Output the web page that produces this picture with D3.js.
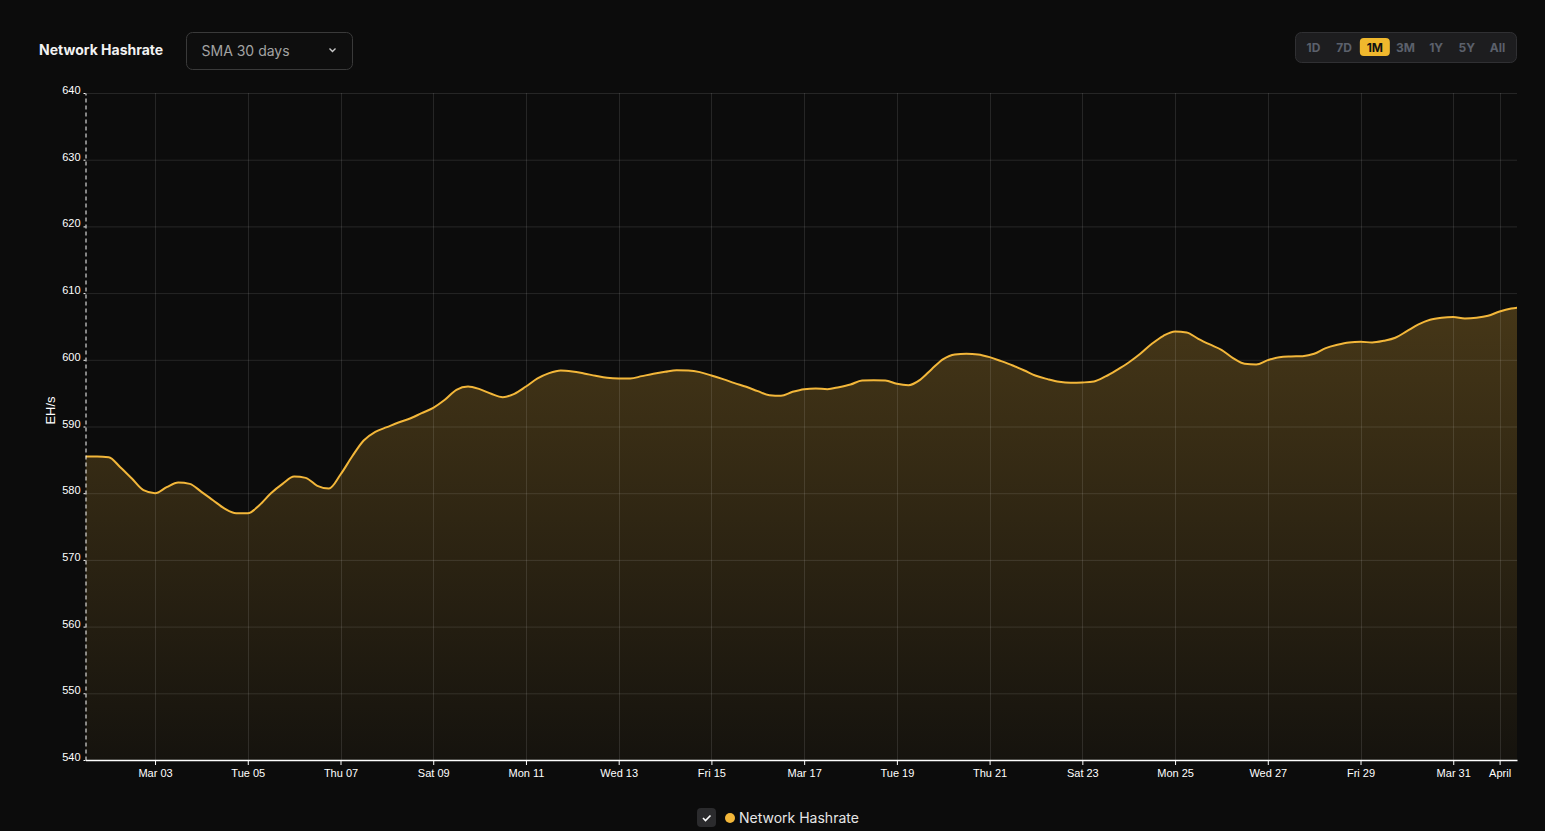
<!DOCTYPE html>
<html lang="en">
<head>
<meta charset="UTF-8">
<title>Network Hashrate</title>
<script src="https://d3js.org/d3.v7.min.js"></script>
<style>
  html, body { margin: 0; padding: 0; background: #0c0c0c; }
  svg { display: block; }
  .tick text { font-family: "Liberation Sans", Arial, sans-serif; font-size: 11px; fill: #ffffff; }
  .grid line { stroke: rgba(255,255,255,0.11); }
</style>
</head>
<body>
<svg width="1545" height="831"></svg>
<script>
// 6-hourly readings, first point 2024-03-01 12:00 UTC
const startTime = "2024-03-01T12:00:00Z";
const endTime = "2024-04-01T09:00:00Z";
const stepHours = 6;
const hashrate = [
  585.5, 585.5, 585.4, 583.9, 582.2, 580.45, 580.0, 580.9, 581.6, 581.4,
  580.2, 578.95, 577.7, 577.0, 577.0, 578.2, 580.0, 581.4, 582.5, 582.3,
  581.1, 580.7, 582.8, 585.5, 587.9, 589.2, 589.9, 590.6, 591.2, 592.0,
  592.8, 594.0, 595.5, 596.0, 595.6, 594.9, 594.4, 594.9, 596.0, 597.2,
  598.0, 598.4, 598.25, 597.95, 597.6, 597.3, 597.2, 597.2, 597.55, 597.9,
  598.2, 598.45, 598.4, 598.15, 597.65, 597.1, 596.5, 595.95, 595.3, 594.7,
  594.6, 595.2, 595.6, 595.7, 595.6, 595.9, 596.3, 596.9, 596.95, 596.9,
  596.4, 596.2, 597.0, 598.6, 600.1, 600.8, 600.9, 600.8, 600.4, 599.8,
  599.15, 598.4, 597.6, 597.1, 596.7, 596.55, 596.6, 596.75, 597.5, 598.5,
  599.6, 600.9, 602.4, 603.6, 604.25, 604.1, 603.15, 602.3, 601.5, 600.25,
  599.4, 599.3, 599.95, 600.4, 600.5, 600.55, 600.9, 601.75, 602.25, 602.6,
  602.7, 602.6, 602.85, 603.3, 604.3, 605.3, 606.0, 606.3, 606.4, 606.2,
  606.3, 606.6, 607.25, 607.7, 607.9
];
const yDomain = [540, 640];
const yTicks = [540, 550, 560, 570, 580, 590, 600, 610, 620, 630, 640];
const ranges = ["1D", "7D", "1M", "3M", "1Y", "5Y", "All"];
const activeRange = "1M";

const t0 = new Date(startTime);
const data = hashrate.map((v, i) => ({ t: d3.utcHour.offset(t0, i * stepHours), v: v }));

const svg = d3.select("svg");
const margin = { left: 85.5, right: 28, top: 93, bottom: 71 };
const W = 1545, H = 831;

const x = d3.scaleUtc()
  .domain([t0, new Date(endTime)])
  .range([margin.left, W - margin.right]);
const y = d3.scaleLinear()
  .domain(yDomain)
  .range([H - margin.bottom, margin.top]);

const xTicks = x.ticks(d3.utcDay.every(2));

const defs = svg.append("defs");
defs.append("clipPath").attr("id", "plotClip")
  .append("rect")
  .attr("x", margin.left).attr("y", margin.top - 5)
  .attr("width", W - margin.right - margin.left)
  .attr("height", H - margin.bottom - margin.top + 5);

// gradient for area
const grad = defs.append("linearGradient")
  .attr("id", "areaFill").attr("x1", 0).attr("x2", 0).attr("y1", 0).attr("y2", 1);
grad.append("stop").attr("offset", "0%").attr("stop-color", "#f3b73a").attr("stop-opacity", 0.25);
grad.append("stop").attr("offset", "100%").attr("stop-color", "#f3b73a").attr("stop-opacity", 0.04);

// area
svg.append("path")
  .datum(data)
  .attr("clip-path", "url(#plotClip)")
  .attr("fill", "url(#areaFill)")
  .attr("d", d3.area()
    .x(d => x(d.t))
    .y0(y(yDomain[0]))
    .y1(d => y(d.v))
    .curve(d3.curveMonotoneX));

// grid
const grid = svg.append("g").attr("class", "grid");
grid.selectAll(".h").data(yTicks.slice(1)).enter().append("line")
  .attr("x1", margin.left).attr("x2", W - margin.right)
  .attr("y1", d => y(d) + 0.5).attr("y2", d => y(d) + 0.5);
grid.selectAll(".v").data(xTicks).enter().append("line")
  .attr("x1", d => Math.round(x(d)) + 0.5).attr("x2", d => Math.round(x(d)) + 0.5)
  .attr("y1", margin.top).attr("y2", H - margin.bottom);

// line
svg.append("path")
  .datum(data)
  .attr("clip-path", "url(#plotClip)")
  .attr("fill", "none")
  .attr("stroke", "#f3b73a")
  .attr("stroke-width", 2)
  .attr("d", d3.line()
    .x(d => x(d.t))
    .y(d => y(d.v))
    .curve(d3.curveMonotoneX));

// x axis
const xAxis = svg.append("g")
  .attr("transform", `translate(0,${H - margin.bottom})`)
  .call(d3.axisBottom(x).tickValues(xTicks).tickSize(5).tickPadding(4).tickSizeOuter(0));
xAxis.select(".domain").attr("stroke", "#ffffff").attr("stroke-width", 1.5);
xAxis.selectAll(".tick line").attr("stroke", "#ffffff");

// y axis
const yAxis = svg.append("g")
  .attr("transform", `translate(${margin.left},0)`)
  .call(d3.axisLeft(y).tickValues(yTicks).tickFormat(d3.format("d")).tickSize(2).tickPadding(3).tickSizeOuter(0));
yAxis.select(".domain").attr("stroke", "#ffffff").attr("stroke-dasharray", "4,3");
yAxis.selectAll(".tick line").attr("stroke", "#ffffff");
yAxis.selectAll(".tick text").attr("dy", "0.05em");

svg.append("text")
  .attr("transform", `translate(55,${y(590) - 16}) rotate(-90)`)
  .attr("text-anchor", "middle")
  .attr("font-family", "Liberation Sans, Arial, sans-serif")
  .attr("font-size", 13)
  .attr("fill", "#ffffff")
  .text("EH/s");

// header
svg.append("text")
  .attr("x", 39).attr("y", 55)
  .attr("font-family", "Inter, sans-serif")
  .attr("font-weight", 700)
  .attr("font-size", 14)
  .attr("fill", "#f2f2f2")
  .text("Network Hashrate");

const dd = svg.append("g").attr("transform", "translate(186.5,32.5)");
dd.append("rect").attr("width", 166).attr("height", 37).attr("rx", 6)
  .attr("fill", "#0e0e0e").attr("stroke", "#3a3a3a");
dd.append("text").attr("x", 15).attr("y", 23)
  .attr("font-family", "Inter, sans-serif").attr("font-size", 14)
  .attr("fill", "#a3a3a3").text("SMA 30 days");
dd.append("path").attr("d", "M143,16 l3,3 l3,-3")
  .attr("fill", "none").attr("stroke", "#c8c8c8").attr("stroke-width", 1.4);

// range buttons
const rb = svg.append("g").attr("transform", "translate(1295.5,32.5)");
rb.append("rect").attr("width", 221).attr("height", 30).attr("rx", 6)
  .attr("fill", "#1d1d1f").attr("stroke", "#303033");
const btnX = d3.scalePoint().domain(ranges).range([18, 202]);
rb.selectAll(".btnbg").data(ranges.filter(r => r === activeRange)).enter().append("rect")
  .attr("x", d => btnX(d) - 15).attr("y", 5.5).attr("width", 30).attr("height", 18).attr("rx", 4)
  .attr("fill", "#f0b82d");
rb.selectAll(".btn").data(ranges).enter().append("text")
  .attr("x", d => btnX(d)).attr("y", 19)
  .attr("text-anchor", "middle")
  .attr("font-family", "Inter, sans-serif").attr("font-weight", 700).attr("font-size", 12)
  .attr("fill", d => d === activeRange ? "#111111" : "#5b606b")
  .text(d => d);

// legend
const lg = svg.append("g").attr("transform", "translate(697,808)");
lg.append("rect").attr("width", 19).attr("height", 19).attr("rx", 4).attr("fill", "#2b2b2d");
lg.append("path").attr("d", "M6,10 l2.5,2.5 l5,-5")
  .attr("fill", "none").attr("stroke", "#ffffff").attr("stroke-width", 1.6);
lg.append("circle").attr("cx", 33).attr("cy", 10).attr("r", 5).attr("fill", "#f3b73a");
lg.append("text").attr("x", 42).attr("y", 15)
  .attr("font-family", "Inter, sans-serif").attr("font-size", 14)
  .attr("fill", "#e6e6e6").text("Network Hashrate");
</script>
</body>
</html>
